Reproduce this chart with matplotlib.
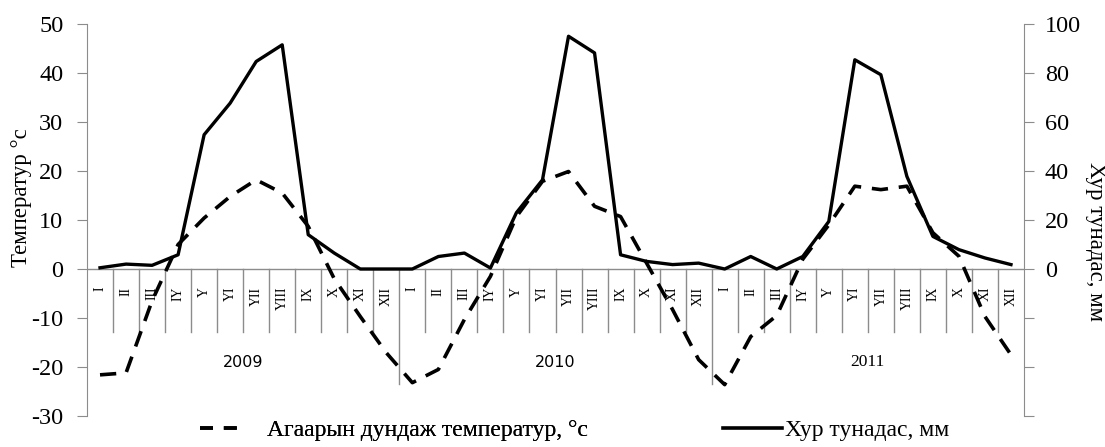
import numpy as np
import matplotlib
matplotlib.use("Agg")
import matplotlib.pyplot as plt
from matplotlib.lines import Line2D

plt.rcParams['font.family'] = ['Liberation Serif', 'DejaVu Serif']
plt.rcParams['axes.unicode_minus'] = False

months = ["I", "II", "III", "IY", "Y", "YI", "YII", "YIII", "IX", "X", "XI", "XII"]
years = ["2009", "2010", "2011"]

temperature = [-21.6, -21.2, -6.5, 5.0, 10.4, 14.8, 18.2, 15.5, 8.7, -2.0, -9.7, -17.1,
               -23.2, -20.5, -10.3, -1.5, 10.7, 17.9, 19.9, 12.8, 10.7, 1.2, -8.3, -18.5,
               -23.6, -13.8, -9.5, 2.0, 9.0, 16.9, 16.2, 16.9, 7.4, 2.6, -9.7, -17.5]
precipitation = [0.5, 2.0, 1.5, 5.8, 54.8, 67.7, 84.7, 91.5, 14.0, 6.5, 0.0, 0.0,
                 0.0, 5.1, 6.5, 0.4, 23.0, 36.4, 95.0, 88.2, 5.8, 3.1, 1.8, 2.4,
                 0.0, 5.1, 0.0, 5.1, 19.4, 85.4, 79.3, 37.8, 13.3, 7.9, 4.5, 1.8]

temp_label = "Температур °с"
prec_label = "Хур тунадас, мм"
legend_temp = "Агаарын дундаж температур, °с"
legend_prec = "Хур тунадас, мм"

grey = '#8c8c8c'
n = len(temperature)
x = np.arange(n)

fig = plt.figure(figsize=(11.05, 4.47), dpi=100)
ax = fig.add_axes([87/1105, 1 - 416/447, (1024-87)/1105, (416-24)/447])
ax2 = ax.twinx()

ax.set_xlim(-0.5, n - 0.5)
ax.set_ylim(-30, 50)
ax2.set_ylim(-60, 100)

ax.plot(x, temperature, color='black', lw=2.6, dashes=(4.5, 3), zorder=3)
ax2.plot(x, precipitation, color='black', lw=2.4, zorder=3)

# spines
for a in (ax, ax2):
    for s in ('top', 'bottom'):
        a.spines[s].set_visible(False)
ax.spines['right'].set_visible(False)
ax.spines['left'].set_color(grey)
ax2.spines['left'].set_visible(False)
ax2.spines['right'].set_color(grey)

ax.set_yticks(np.arange(-30, 51, 10))
ax.tick_params(axis='y', colors=grey, labelcolor='black', labelsize=17.5, length=7, pad=10)
ax2.set_yticks(np.arange(-60, 101, 20))
ax2.set_yticklabels([str(v) if v >= 0 else '' for v in range(-60, 101, 20)])
ax2.tick_params(axis='y', colors=grey, labelcolor='black', labelsize=17.5, length=7, pad=8)
ax.set_xticks([])

ax.set_ylabel(temp_label, fontsize=16.5)
ax.yaxis.label.set_verticalalignment('center')
ax.yaxis.set_label_coords(-0.0694, 0.557)
ax2.set_ylabel(prec_label, fontsize=16.5, rotation=270)
ax2.yaxis.label.set_verticalalignment('center')
ax2.yaxis.set_label_coords(1.0758, 0.445)

# category axis at zero
ax.axhline(0, color=grey, lw=1.0, zorder=1)
for b in range(1, n):
    y_end = -23.5 if b % 12 == 0 else -12.9
    ax.plot([b - 0.5, b - 0.5], [0, y_end], color=grey, lw=1.0, zorder=1)

for i in range(n):
    ax.text(x[i], -3.6, months[i % 12], rotation=90, ha='center', va='top',
            fontsize=10)

year_fonts = ['DejaVu Sans', 'DejaVu Sans', 'Liberation Serif']
year_sizes = [11.5, 11.5, 12.5]
for k, yr in enumerate(years):
    ax.text(12 * k + 5.5, -19.0, yr, ha='center', va='center', fontsize=year_sizes[k],
            family=year_fonts[k])

leg1 = fig.legend([Line2D([], [], color='black', lw=2.6, dashes=(3.6, 3.0))], [legend_temp],
                  loc='center left', bbox_to_anchor=(200/1105, 0.038), frameon=False,
                  fontsize=17, handlelength=1.82, handletextpad=1.0,
                  borderpad=0, borderaxespad=0)
fig.add_artist(leg1)
fig.legend([Line2D([], [], color='black', lw=2.6)], [legend_prec],
           loc='center left', bbox_to_anchor=(723/1105, 0.038), frameon=False,
           fontsize=17, handlelength=2.5, handletextpad=0.13,
           borderpad=0, borderaxespad=0)

fig.savefig('out.png', dpi=100)
